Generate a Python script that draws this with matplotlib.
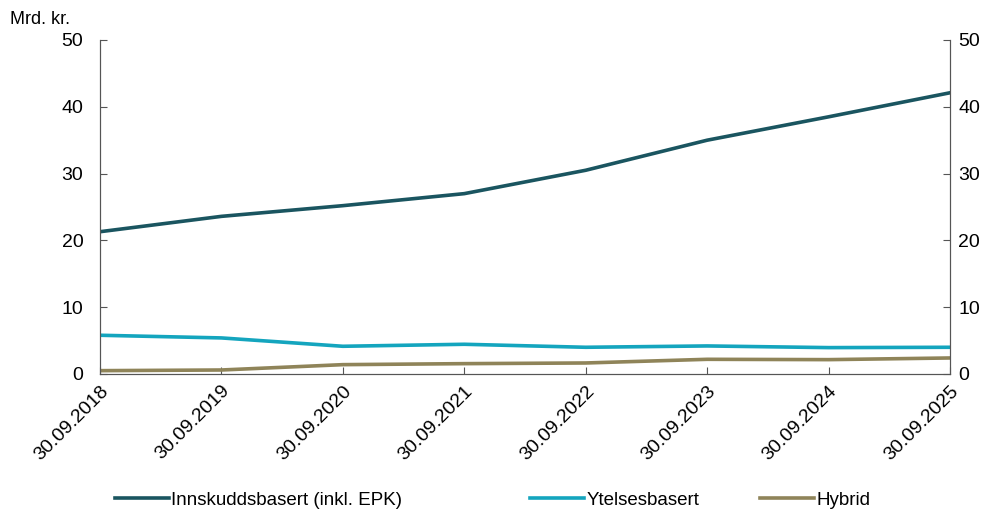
import matplotlib.pyplot as plt

plt.rcParams['font.family'] = ['Liberation Sans', 'DejaVu Sans']

# Data (Mrd. kr.)
datoer = ['30.09.2018', '30.09.2019', '30.09.2020', '30.09.2021',
          '30.09.2022', '30.09.2023', '30.09.2024', '30.09.2025']
innskudd = [21.3, 23.6, 25.2, 27.0, 30.5, 35.0, 38.5, 42.1]
ytelse = [5.8, 5.4, 4.15, 4.45, 4.0, 4.2, 3.95, 4.0]
hybrid = [0.5, 0.6, 1.4, 1.55, 1.65, 2.2, 2.15, 2.4]

x = list(range(len(datoer)))
farger = ['#1a5560', '#14a5be', '#8f8459']

fig = plt.figure(figsize=(9.88, 5.13), dpi=100)
ax = fig.add_axes([100/988, 1 - 374/513, 850/988, 334/513])

l1, = ax.plot(x, innskudd, color=farger[0], lw=2.6)
l2, = ax.plot(x, ytelse, color=farger[1], lw=2.6)
l3, = ax.plot(x, hybrid, color=farger[2], lw=2.6)

ax.set_xlim(0, len(datoer) - 1)
ax.set_ylim(0, 50)
ax.set_yticks(range(0, 51, 10))
ax.set_xticks(x)
ax.set_xticklabels(datoer, rotation=45, ha='right', rotation_mode='anchor')

ax.tick_params(axis='both', direction='in', labelsize=14, color='#555555', length=5)
ax.tick_params(axis='y', pad=12)
ax.tick_params(axis='x', pad=6)

# Høyre akse
ax2 = ax.twinx()
ax2.set_ylim(0, 50)
ax2.set_yticks(range(0, 51, 10))
ax2.tick_params(axis='y', direction='in', labelsize=14, color='#555555', length=5, pad=6)

for a in [ax, ax2]:
    a.spines['top'].set_visible(False)
    for side in ['left', 'right', 'bottom']:
        a.spines[side].set_color('#555555')

fig.text(10/988, 1 - 20/513, 'Mrd. kr.', fontsize=13, va='center')

# Forklaring, plassert manuelt
navn = ['Innskuddsbasert (inkl. EPK)', 'Ytelsesbasert', 'Hybrid']
posisjoner = [115, 530, 760]
for linje, tekst, px in zip([l1, l2, l3], navn, posisjoner):
    fig.legend([linje], [tekst], loc='center left', bbox_to_anchor=(px/988, 1 - 500/513),
               frameon=False, fontsize=13.5, handlelength=2.9, handletextpad=0.1,
               borderaxespad=0, borderpad=0)

fig.savefig('out.png', dpi=100)
